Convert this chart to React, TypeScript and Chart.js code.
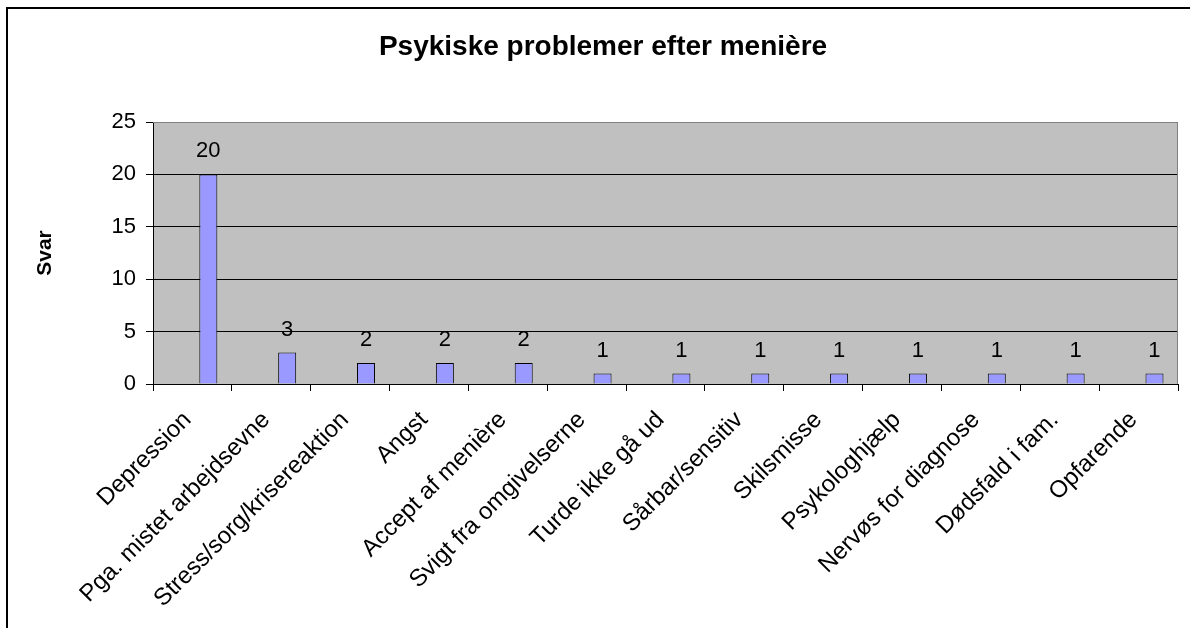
import React, { useEffect, useRef } from 'react';
import { Chart, registerables } from 'chart.js';

Chart.register(...registerables);

const chartTitle = 'Psykiske problemer efter menière';
const yAxisTitle = 'Svar';
const categories = [
  'Depression',
  'Pga. mistet arbejdsevne',
  'Stress/sorg/krisereaktion',
  'Angst',
  'Accept af menière',
  'Svigt fra omgivelserne',
  'Turde ikke gå ud',
  'Sårbar/sensitiv',
  'Skilsmisse',
  'Psykologhjælp',
  'Nervøs for diagnose',
  'Dødsfald i fam.',
  'Opfarende',
];
const svar = [20, 3, 2, 2, 2, 1, 1, 1, 1, 1, 1, 1, 1];
// the source sheet has an empty first series that still reserves its slot
const emptySeries = categories.map(() => null);
const yTicks = [0, 5, 10, 15, 20, 25];

const FONT = "'Liberation Sans', Arial, Helvetica, sans-serif";

const plotPlugin = {
  id: 'plotDecor',
  beforeDraw(chart: any) {
    const { ctx, chartArea: a } = chart;
    ctx.save();
    ctx.fillStyle = '#C0C0C0';
    ctx.fillRect(a.left, a.top, a.right - a.left, a.bottom - a.top);
    ctx.restore();
  },
  beforeDatasetsDraw(chart: any) {
    const { ctx, chartArea: a } = chart;
    ctx.save();
    ctx.strokeStyle = '#808080';
    ctx.lineWidth = 1;
    ctx.beginPath();
    ctx.moveTo(a.left, a.top + 0.5);
    ctx.lineTo(a.right - 0.5, a.top + 0.5);
    ctx.lineTo(a.right - 0.5, a.bottom);
    ctx.stroke();
    ctx.restore();
  },
  afterDatasetsDraw(chart: any) {
    const { ctx } = chart;
    const meta = chart.getDatasetMeta(1);
    ctx.save();
    ctx.font = `22px ${FONT}`;
    ctx.fillStyle = '#000';
    ctx.textAlign = 'center';
    ctx.textBaseline = 'alphabetic';
    meta.data.forEach((el: any, i: number) => {
      ctx.fillText(String(svar[i]), el.x, el.y - 17);
    });
    ctx.restore();
  },
};

export default function App() {
  const ref = useRef<HTMLCanvasElement>(null);

  useEffect(() => {
    if (!ref.current) return;
    Chart.defaults.font.family = FONT;
    const barStyle = {
      backgroundColor: '#9999FF',
      borderColor: '#000000',
      borderWidth: 1,
      categoryPercentage: 0.807,
      barPercentage: 0.566,
    };
    const chart = new Chart(ref.current, {
      type: 'bar',
      data: {
        labels: categories,
        datasets: [
          { label: '', data: emptySeries as any, ...barStyle },
          { label: yAxisTitle, data: svar, ...barStyle },
        ],
      },
      plugins: [plotPlugin],
      options: {
        responsive: false,
        animation: false,
        devicePixelRatio: 1,
        layout: { padding: { left: 28, right: 12, top: 0, bottom: 0 } },
        plugins: {
          legend: { display: false },
          tooltip: { enabled: false },
          title: {
            display: true,
            text: chartTitle,
            color: '#000',
            font: { size: 28, weight: 'bold', family: FONT },
            padding: { top: 30, bottom: 58.4 },
          },
        },
        scales: {
          x: {
            offset: true,
            grid: {
              display: true,
              drawOnChartArea: false,
              drawTicks: true,
              tickLength: 7,
              offset: true,
              color: '#000',
              tickColor: '#000',
            },
            border: { display: true, color: '#000', width: 1 },
            ticks: {
              autoSkip: false,
              minRotation: 45,
              maxRotation: 45,
              padding: 15,
              labelOffset: -5,
              color: '#000',
              font: { size: 24, family: FONT },
            },
            afterFit: (s: any) => {
              s.height = 244;
            },
          },
          y: {
            min: 0,
            max: 25,
            afterBuildTicks: (s: any) => {
              s.ticks = yTicks.map((v) => ({ value: v }));
            },
            grid: {
              color: (c: any) => (c.tick && c.tick.value === 25 ? '#808080' : '#000'),
              tickColor: '#000',
              tickLength: 7,
              lineWidth: 1,
            },
            border: { display: true, color: '#000', width: 1 },
            ticks: {
              padding: 10,
              color: '#000',
              font: { size: 22, family: FONT },
            },
            title: {
              display: true,
              text: yAxisTitle,
              color: '#000',
              font: { size: 21, weight: 'bold', family: FONT },
              padding: { top: 5, bottom: 0 },
            },
            afterFit: (s: any) => {
              s.width = 125;
            },
          },
        },
      },
    });
    return () => chart.destroy();
  }, []);

  return (
    <div
      style={{
        position: 'absolute',
        left: 0,
        top: 0,
        width: 1190,
        height: 628,
        overflow: 'hidden',
        background: '#fff',
      }}
    >
      <div
        style={{
          position: 'absolute',
          left: 6,
          top: 7,
          width: 1300,
          height: 800,
          border: '2px solid #000',
          boxSizing: 'border-box',
        }}
      />
      <canvas
        ref={ref}
        width={1190}
        height={628}
        style={{ position: 'absolute', left: 0, top: 0, width: 1190, height: 628, display: 'block' }}
      />
    </div>
  );
}
